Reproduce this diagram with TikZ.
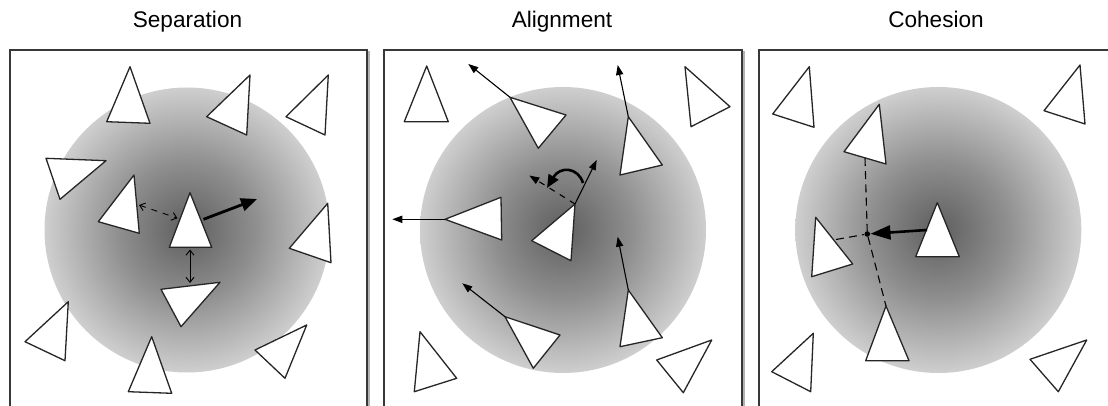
\documentclass[tikz,border=0pt]{standalone}
\usepackage{fontspec}
\setsansfont{Liberation Sans}
\usepackage{tikz}
\usetikzlibrary{arrows.meta}
\pgfdeclareradialshading{zone}{\pgfpoint{0bp}{0bp}}{color(0bp)=(black!63); color(12bp)=(black!44); color(25bp)=(black!19); color(50bp)=(black!19)}

\begin{document}
\begin{tikzpicture}[x=0.5pt,y=-0.5pt]
	\tikzstyle{panel}=[draw=black!78,fill=white,line width=.7pt]
	\tikzstyle{boxshadow}=[draw=black!30,line width=1.3pt]
	\tikzstyle{zonefill}=[shading=zone]
	\tikzstyle{boid}=[draw=black!85,fill=white,line width=.65pt,line join=round]
	\tikzstyle{heading}=[font=\sffamily\fontsize{11.3}{13}\selectfont,anchor=base]
	\tikzstyle{push}=[line width=1.4pt,-{Triangle[length=8pt,width=6.5pt]}]
	\tikzstyle{gap}=[line width=.45pt,{Straight Barb[length=2.5pt,width=4pt]}-{Straight Barb[length=2.5pt,width=4pt]}]
	\tikzstyle{heading2}=[line width=.55pt,-{Triangle[length=5pt,width=3.6pt]}]
	\tikzstyle{turn}=[line width=1.3pt,-{Triangle[length=6.5pt,width=5.5pt]}]
	\tikzstyle{pull}=[line width=1.3pt,-{Triangle[length=10pt,width=7pt]}]
	\tikzstyle{link}=[line width=.55pt,dash pattern=on 4pt off 2.6pt]
	\tikzstyle{mass}=[circle,fill=black,inner sep=0pt,minimum size=2.8pt]
	\useasboundingbox (0,0) rectangle (1108,406);

	\node[heading] (sep) at (187.5,28) {Separation};
	\node[heading] (ali) at (562,28) {Alignment};
	\node[heading] (coh) at (936,28) {Cohesion};

	% separation
	\draw[boxshadow] (12,52) rectangle (369,420);
	\draw[panel] (10,50) rectangle (367,420);
	\shade[zonefill] (187,230) circle (142.5);
	\draw[boid] (130,66.7) -- (106.7,121.7) -- (150,123.3) -- cycle;
	\draw[boid] (250,75) -- (206.7,116.7) -- (246.7,135) -- cycle;
	\draw[boid] (328.3,75) -- (286,116.7) -- (325,135) -- cycle;
	\draw[boid] (46,158.3) -- (106,160.7) -- (60,199.3) -- cycle;
	\draw[boid] (134,175) -- (98.3,221.7) -- (139.3,233.3) -- cycle;
	\draw[boid] (190,192.7) -- (169.3,247.3) -- (211.7,247.3) -- cycle;
	\draw[boid] (327.7,203.3) -- (289.3,248.3) -- (331,262.7) -- cycle;
	\draw[boid] (161,289.3) -- (220,282.3) -- (181,326.7) -- cycle;
	\draw[boid] (68.3,301.7) -- (25,341.7) -- (65,360.7) -- cycle;
	\draw[boid] (151.7,336.7) -- (128.3,391.7) -- (171.7,393.3) -- cycle;
	\draw[boid] (306.7,325) -- (255,350) -- (285,378.3) -- cycle;
	\coordinate (s0) at (203.5,219.3);
	\coordinate (s1) at (257,199);
	\coordinate (s2) at (139,205);
	\coordinate (s3) at (177.5,218.3);
	\coordinate (s4) at (190,249.5);
	\coordinate (s5) at (190,283);
	\draw[push] (s0) -- (s1);
	\draw[gap,dashed] (s2) -- (s3);
	\draw[gap] (s4) -- (s5);

	% alignment
	\draw[boxshadow] (386,52) rectangle (744,420);
	\draw[panel] (384,50) rectangle (742,420);
	\shade[zonefill] (563,230) circle (143);
	\draw[boid] (426.7,66) -- (404.3,121.7) -- (448.3,121.7) -- cycle;
	\draw[boid] (510,97.3) -- (566,115) -- (538.3,148.3) -- cycle;
	\draw[boid] (628.3,116.7) -- (620,175) -- (662.3,165) -- cycle;
	\draw[boid] (685,66.7) -- (730,106.7) -- (691,126.7) -- cycle;
	\draw[boid] (445,219.3) -- (501,197.3) -- (501.7,240) -- cycle;
	\draw[boid] (575,204) -- (531.7,240.7) -- (571,260.7) -- cycle;
	\draw[boid] (505,316.7) -- (560,335) -- (533.3,368.3) -- cycle;
	\draw[boid] (628.3,290) -- (620,346.7) -- (662.3,337.7) -- cycle;
	\draw[boid] (420,331.7) -- (414.3,391.7) -- (456.7,378.3) -- cycle;
	\draw[boid] (711.7,340) -- (656.7,360) -- (683.3,392.7) -- cycle;
	\coordinate (a1) at (510,97.3);
	\coordinate (a1h) at (468.3,64);
	\coordinate (a2) at (628.3,116.7);
	\coordinate (a2h) at (617.7,65);
	\coordinate (a3) at (445,219.3);
	\coordinate (a3h) at (392.3,219.3);
	\coordinate (a4) at (505,316.7);
	\coordinate (a4h) at (462.3,283.3);
	\coordinate (a5) at (628.3,290);
	\coordinate (a5h) at (617.7,236.7);
	\coordinate (a0) at (575,204);
	\coordinate (a0h) at (596.7,160);
	\coordinate (a0d) at (529.3,175.5);
	\draw[heading2] (a1) -- (a1h);
	\draw[heading2] (a2) -- (a2h);
	\draw[heading2] (a3) -- (a3h);
	\draw[heading2] (a4) -- (a4h);
	\draw[heading2] (a5) -- (a5h);
	\draw[heading2] (a0) -- (a0h);
	\draw[heading2,dashed] (a0) -- (a0d);
	\draw[turn] (583,183) .. controls (578,167) and (560,166) .. (547,188);

	% cohesion
	\draw[boxshadow] (761,52) rectangle (1119,420);
	\draw[panel] (759,50) rectangle (1117,420);
	\shade[zonefill] (938.3,230) circle (143);
	\node[mass] (cen) at (867.3,234) {};
	\coordinate (c1) at (865,158);
	\coordinate (c2) at (836,239.5);
	\coordinate (c3) at (886,306);
	\coordinate (c0) at (927,230);
	\draw[link] (c1) -- (cen);
	\draw[link] (c2) -- (cen);
	\draw[link] (cen) -- (c3);
	\draw[boid] (809.3,66.7) -- (772.7,114) -- (814,127.3) -- cycle;
	\draw[boid] (1080,65) -- (1044,110.7) -- (1085,124) -- cycle;
	\draw[boid] (879.3,104.3) -- (844,151.7) -- (886,164) -- cycle;
	\draw[boid] (937.3,202.7) -- (915.7,256.7) -- (959.3,256.7) -- cycle;
	\draw[boid] (815.7,217.3) -- (811.7,276.7) -- (852.7,264) -- cycle;
	\draw[boid] (886,306) -- (865.7,360.7) -- (909,360.7) -- cycle;
	\draw[boid] (813.3,333.3) -- (771.7,371.7) -- (810.7,391.7) -- cycle;
	\draw[boid] (1086.7,340) -- (1030,359.3) -- (1058.3,391.7) -- cycle;
	\draw[pull] (c0) -- (cen);
\end{tikzpicture}
\end{document}
